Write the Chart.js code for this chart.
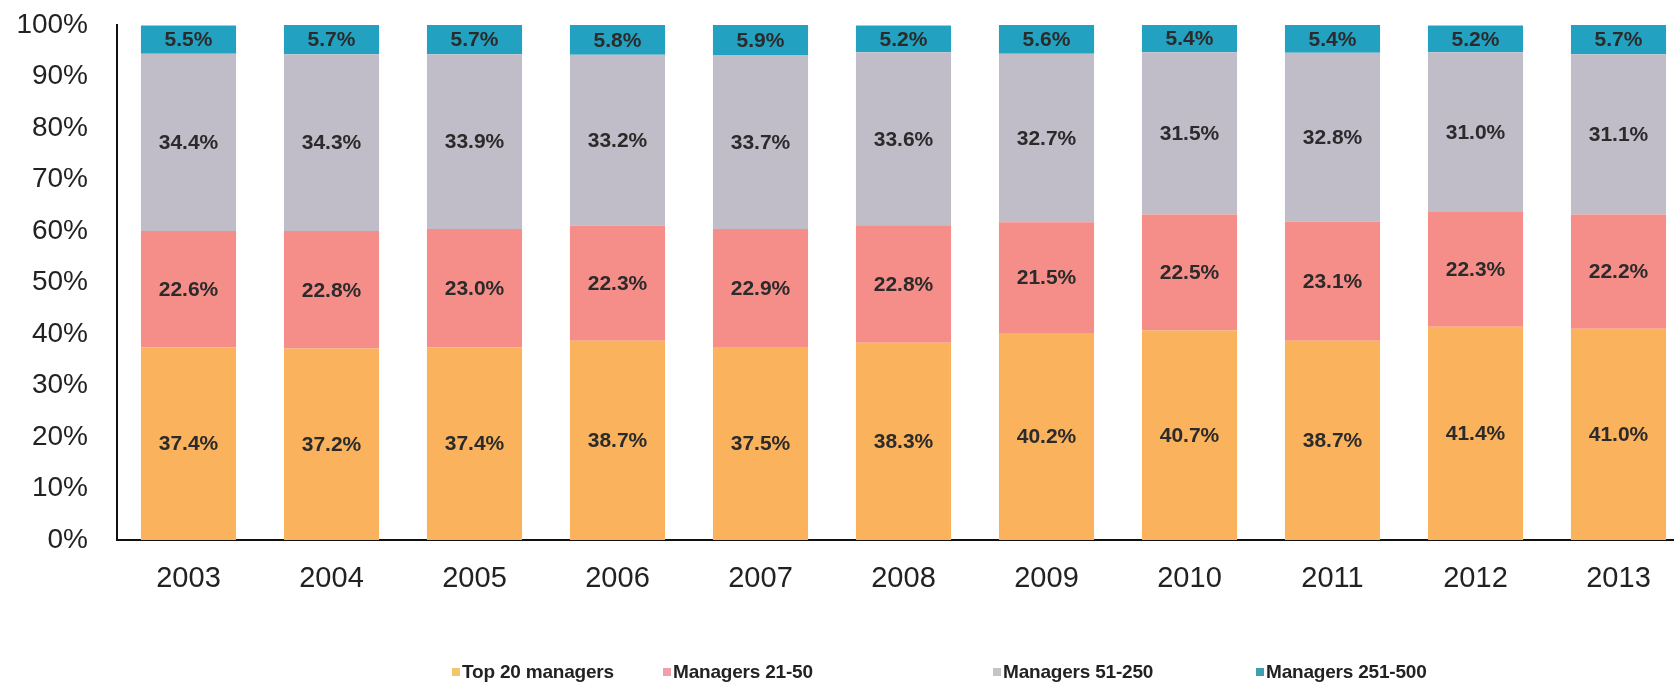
<!DOCTYPE html>
<html>
<head>
<meta charset="utf-8">
<script src="https://cdn.jsdelivr.net/npm/chart.js@4"></script>
<style>
  html, body { margin:0; padding:0; background:#fff; }
  #wrap { position:relative; width:1674px; height:688px; overflow:hidden; background:#fff; }
  #cwrap { position:absolute; left:0; top:0; width:1700px; height:688px; }
  .lg { position:absolute; top:660px; height:24px; display:flex; align-items:center;
        font-family:"Liberation Sans", Arial, sans-serif; font-weight:bold; font-size:19px;
        color:#222; letter-spacing:-0.2px; white-space:nowrap; }
  .lg span.box { display:inline-block; width:8px; height:8px; margin-right:2px; }
</style>
</head>
<body>
<div id="wrap">
  <div id="cwrap"><canvas id="c" width="1700" height="688"></canvas></div>
</div>
<script>
const years = ["2003","2004","2005","2006","2007","2008","2009","2010","2011","2012","2013"];
const top20    = [37.4, 37.2, 37.4, 38.7, 37.5, 38.3, 40.2, 40.7, 38.7, 41.4, 41.0];
const m21_50   = [22.6, 22.8, 23.0, 22.3, 22.9, 22.8, 21.5, 22.5, 23.1, 22.3, 22.2];
const m51_250  = [34.4, 34.3, 33.9, 33.2, 33.7, 33.6, 32.7, 31.5, 32.8, 31.0, 31.1];
const m251_500 = [5.5, 5.7, 5.7, 5.8, 5.9, 5.2, 5.6, 5.4, 5.4, 5.2, 5.7];
const seriesNames = ["Top 20 managers", "Managers 21-50", "Managers 51-250", "Managers 251-500"];
const yTicks = [0,10,20,30,40,50,60,70,80,90,100];

const colors = ["#FAB25D", "#F58E88", "#C0BDC9", "#23A1C1"];
const legendColors = ["#F2C66A", "#EFA0A8", "#C4C4C8", "#3E9FAE"];
const legendLeft = [452, 663, 993, 1256];

const seriesData = [top20, m21_50, m51_250, m251_500];

const labelPlugin = {
  id: 'segLabels',
  afterDatasetsDraw(chart) {
    const ctx = chart.ctx;
    ctx.save();
    ctx.font = 'bold 21px "Liberation Sans", Arial, sans-serif';
    ctx.fillStyle = '#2b2b2b';
    ctx.textAlign = 'center';
    ctx.textBaseline = 'middle';
    chart.data.datasets.forEach((ds, i) => {
      const meta = chart.getDatasetMeta(i);
      meta.data.forEach((bar, j) => {
        const p = bar.getProps(['x', 'y', 'base'], true);
        ctx.fillText(ds.data[j].toFixed(1) + '%', p.x, (p.y + p.base) / 2 + 1);
      });
    });
    ctx.restore();
  }
};

new Chart(document.getElementById('c'), {
  type: 'bar',
  data: {
    labels: years,
    datasets: seriesData.map((d, i) => ({
      label: seriesNames[i],
      data: d,
      backgroundColor: colors[i],
      borderWidth: 0,
      barPercentage: 0.665,
      categoryPercentage: 1.0
    }))
  },
  options: {
    responsive: false,
    devicePixelRatio: 1,
    animation: false,
    layout: { padding: { left: 0, right: 10, top: 25, bottom: 0 } },
    plugins: { legend: { display: false }, tooltip: { enabled: false } },
    scales: {
      x: {
        stacked: true,
        grid: { display: false, drawTicks: false },
        border: { display: true, color: '#111', width: 2 },
        ticks: { color: '#222', padding: 22, font: { family: '"Liberation Sans", Arial, sans-serif', size: 29 } },
        afterFit(scale) { scale.height = 148; }
      },
      y: {
        stacked: true,
        min: 0, max: 100,
        afterBuildTicks(scale) { scale.ticks = yTicks.map(v => ({ value: v })); },
        grid: { display: false, drawTicks: false },
        border: { display: true, color: '#111', width: 2 },
        ticks: { color: '#222', padding: 29, callback: v => v + '%',
                 font: { family: '"Liberation Sans", Arial, sans-serif', size: 28 } },
        afterFit(scale) { scale.width = 117; scale.paddingTop = 0; scale.paddingBottom = 0; }
      }
    }
  },
  plugins: [labelPlugin]
});

const wrap = document.getElementById('wrap');
seriesNames.forEach((name, i) => {
  const d = document.createElement('div');
  d.className = 'lg';
  d.style.left = legendLeft[i] + 'px';
  const b = document.createElement('span');
  b.className = 'box';
  b.style.background = legendColors[i];
  d.appendChild(b);
  d.appendChild(document.createTextNode(name));
  wrap.appendChild(d);
});
</script>
</body>
</html>
